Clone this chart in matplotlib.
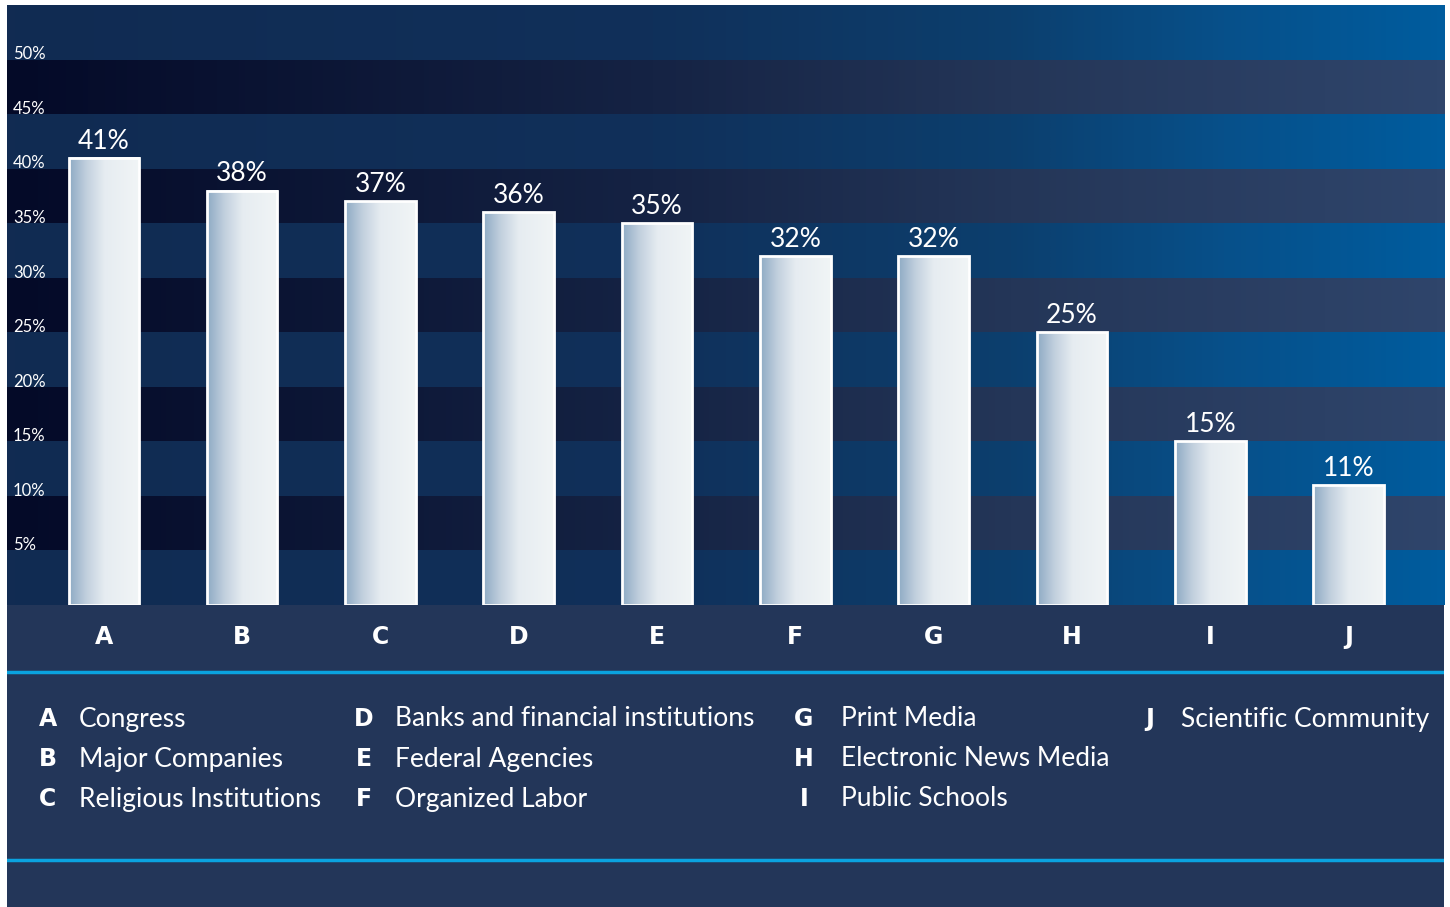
import numpy as np
import matplotlib.pyplot as plt
from matplotlib.colors import LinearSegmentedColormap

# data
letters = ['A', 'B', 'C', 'D', 'E', 'F', 'G', 'H', 'I', 'J']
institutions = ['Congress', 'Major Companies', 'Religious Institutions',
                'Banks and financial institutions', 'Federal Agencies', 'Organized Labor',
                'Print Media', 'Electronic News Media', 'Public Schools',
                'Scientific Community']
values = [41, 38, 37, 36, 35, 32, 32, 25, 15, 11]
ytick_vals = [5, 10, 15, 20, 25, 30, 35, 40, 45, 50]

navy = '#233659'
cyan = '#0aa3e0'

fig = plt.figure(figsize=(14.5, 9.07), dpi=100)
fig.patch.set_facecolor('white')

W, H = 1450, 907
# plot area in pixels: x 7..1444, y 3..605
ax = fig.add_axes([7 / W, 1 - 605 / H, 1437 / W, 602 / H])
ax.set_xlim(-0.70, 9.69)
ax.set_ylim(0, 55.2)
ax.axis('off')

light_cm = LinearSegmentedColormap.from_list('light', [
    (0.0, '#112b52'), (0.45, '#10305a'), (0.7, '#0c3f6e'), (0.85, '#07508a'), (1.0, '#005c9e')])
dark_cm = LinearSegmentedColormap.from_list('dark', [
    (0.0, '#040a28'), (0.45, '#152344'), (0.7, '#243658'), (1.0, '#2f456b')])
bar_cm = LinearSegmentedColormap.from_list('bar', [
    (0.0, '#8eaac4'), (0.25, '#c2d0de'), (0.5, '#e6ecf1'), (1.0, '#f1f5f6')])

grad = np.linspace(0, 1, 256).reshape(1, -1)
x0, x1 = ax.get_xlim()
for k in range(11):
    lo, hi = 5 * k, min(5 * k + 5, 55.2)
    cm = light_cm if k % 2 == 0 else dark_cm
    ax.imshow(grad, cmap=cm, aspect='auto', extent=(x0, x1, lo, hi),
              interpolation='bicubic', zorder=0)

bw = 0.51
for i, v in enumerate(values):
    ax.imshow(grad, cmap=bar_cm, aspect='auto',
              extent=(i - bw / 2, i + bw / 2, 0, v), interpolation='bicubic', zorder=2)
bars = ax.bar(range(len(values)), values, width=bw, facecolor='none',
              edgecolor='white', linewidth=2, zorder=3)
ax.bar_label(bars, labels=[f'{v}%' for v in values], padding=3, color='white',
             fontsize=19, family='Lato', zorder=4)
ax.set_xlim(x0, x1)
ax.set_ylim(0, 55.2)

for t in ytick_vals:
    ax.text(6 / 1437, t - 0.25, f'{t}%', transform=ax.get_yaxis_transform(),
            color='white', fontsize=12, family='Lato', ha='left', va='bottom', zorder=4)

# bottom panel
pan = fig.add_axes([7 / W, 0, 1437 / W, 1 - 3 / H - 602 / H])
pan.set_xlim(0, W - 7)
pan.set_ylim(907 - 605, 0)
pan.axis('off')
pan.add_patch(plt.Rectangle((0, 0), W, 302, color=navy, zorder=0))
pan.axhline(672 - 605, color=cyan, lw=2.5)
pan.axhline(860 - 605, color=cyan, lw=2.5)

# letters under bars
for i, l in enumerate(letters):
    xpix = ax.transData.transform((i, 0))[0]
    xf = xpix / fig.bbox.width
    fig.text(xf, 1 - 637 / H, l, color='white', fontsize=17, family='DejaVu Sans',
             weight='heavy', ha='center', va='center')

# legend block
col_letter_x = [48, 364, 804, 1150]
col_label_x = [79, 395, 841, 1181]
row_y = [719, 759, 799]
for i, (l, name) in enumerate(zip(letters, institutions)):
    col, row = (i // 3, i % 3) if i < 9 else (3, 0)
    fig.text(col_letter_x[col] / W, 1 - row_y[row] / H, l, color='white', fontsize=17,
             family='DejaVu Sans', weight='heavy', ha='center', va='center')
    fig.text(col_label_x[col] / W, 1 - row_y[row] / H, name, color='white', fontsize=19,
             family='Lato', ha='left', va='center')

fig.savefig('out.png', dpi=100, facecolor=fig.get_facecolor())
